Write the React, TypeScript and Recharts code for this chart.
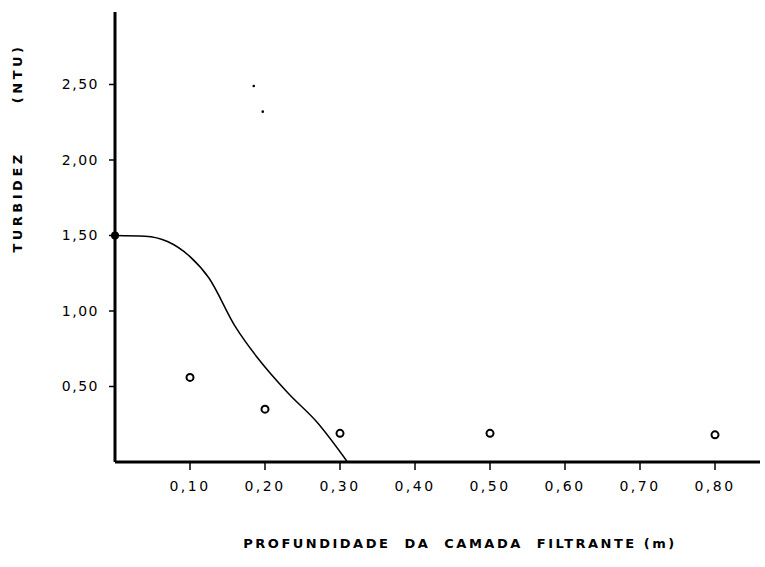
import {
  ComposedChart, Line, Scatter, XAxis, YAxis,
} from 'recharts';

// profundidade (m) x turbidez (NTU)
const CURVE_DEPTH = [0, 0.04, 0.07, 0.1, 0.125, 0.16, 0.19, 0.23, 0.27, 0.31];
const CURVE_TURB = [1.5, 1.495, 1.46, 1.36, 1.22, 0.9, 0.69, 0.46, 0.26, 0];

const OBS_DEPTH = [0.1, 0.2, 0.3, 0.5, 0.8];
const OBS_TURB = [0.56, 0.35, 0.19, 0.19, 0.18];

const START_POINT = [{ x: 0, y: 1.5 }];

// small marks left on the original scan
const SPECK_DEPTH = [0.185, 0.197];
const SPECK_TURB = [2.49, 2.32];

const X_TICKS = [0.1, 0.2, 0.3, 0.4, 0.5, 0.6, 0.7, 0.8];
const Y_TICKS = [0.5, 1.0, 1.5, 2.0, 2.5];

const curveData = CURVE_DEPTH.map((x, i) => ({ x, y: CURVE_TURB[i] }));
const obsData = OBS_DEPTH.map((x, i) => ({ x, y: OBS_TURB[i] }));
const speckData = SPECK_DEPTH.map((x, i) => ({ x, y: SPECK_TURB[i] }));

const fmt = (v: number) => v.toFixed(2).replace('.', ',');

const FONT = '"DejaVu Sans", Verdana, sans-serif';

const OpenCircle = (props: any) => {
  const { cx, cy } = props;
  return <circle cx={cx} cy={cy} r={3.5} fill="#fff" stroke="#000" strokeWidth={2} />;
};

const FilledDot = (props: any) => {
  const { cx, cy } = props;
  return <circle cx={cx} cy={cy} r={4} fill="#000" />;
};

const Speck = (props: any) => {
  const { cx, cy } = props;
  return <circle cx={cx} cy={cy} r={1.3} fill="#000" />;
};

const YTitle = () => (
  <text
    x={22}
    y={148}
    transform="rotate(-90 22 148)"
    textAnchor="middle"
    fontFamily={FONT}
    fontWeight="bold"
    fontSize={13}
    letterSpacing={3.5}
    fill="#000"
    style={{ whiteSpace: 'pre' }}
  >
    {'TURBIDEZ      (NTU)'}
  </text>
);

const XTitle = () => (
  <text
    x={460}
    y={548}
    textAnchor="middle"
    fontFamily={FONT}
    fontWeight="bold"
    fontSize={13}
    letterSpacing={2.5}
    fill="#000"
    style={{ whiteSpace: 'pre' }}
  >
    {'PROFUNDIDADE  DA  CAMADA  FILTRANTE (m)'}
  </text>
);

export default function App() {
  return (
    <div style={{ position: 'absolute', top: 0, left: 0, width: 765, height: 567, background: '#fff' }}>
      <ComposedChart
        width={765}
        height={567}
        margin={{ top: 12, right: 5, left: 55, bottom: 65 }}
      >
        <XAxis
          type="number"
          dataKey="x"
          domain={[0, 0.86]}
          ticks={X_TICKS}
          tickFormatter={fmt}
          height={40}
          axisLine={{ stroke: '#000', strokeWidth: 3 }}
          tickLine={{ stroke: '#000', strokeWidth: 1.5 }}
          tickSize={8}
          tickMargin={11}
          tick={{ fill: '#000', fontSize: 14, fontFamily: FONT, letterSpacing: 2.5 }}
          label={{ content: () => <XTitle /> }}
        />
        <YAxis
          type="number"
          dataKey="y"
          domain={[0, 2.98]}
          ticks={Y_TICKS}
          tickFormatter={fmt}
          width={60}
          axisLine={{ stroke: '#000', strokeWidth: 3 }}
          tickLine={{ stroke: '#000', strokeWidth: 1.5 }}
          tickSize={6}
          tickMargin={10}
          tick={{ fill: '#000', fontSize: 14, fontFamily: FONT, letterSpacing: 1.5 }}
          label={{ content: () => <YTitle /> }}
        />
        <Line
          data={curveData}
          dataKey="y"
          type="monotone"
          stroke="#000"
          strokeWidth={1.5}
          dot={false}
          activeDot={false}
          isAnimationActive={false}
        />
        <Scatter data={obsData} dataKey="y" shape={<OpenCircle />} isAnimationActive={false} />
        <Scatter data={START_POINT} dataKey="y" shape={<FilledDot />} isAnimationActive={false} />
        <Scatter data={speckData} dataKey="y" shape={<Speck />} isAnimationActive={false} />
      </ComposedChart>
    </div>
  );
}
